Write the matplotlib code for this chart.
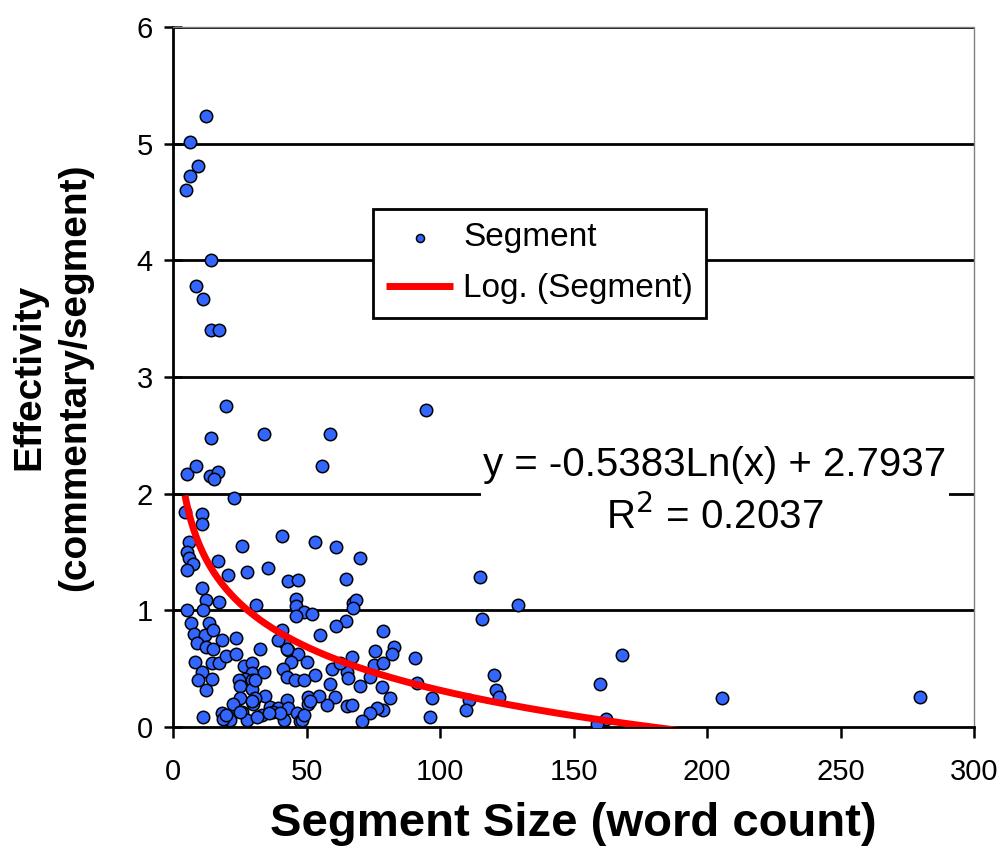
import numpy as np
import matplotlib
matplotlib.use("Agg")
import matplotlib.pyplot as plt

# Segment size (word count) and effectivity (commentary/segment)
seg_x = [
    12.3, 6.3, 9.4, 6.4, 4.8, 14.4, 8.5, 11.4, 14.4, 17.4,
    19.8, 14.4, 34.0, 58.9, 55.8, 94.9, 5.4, 8.5, 13.9, 17.0,
    15.3, 22.8, 4.5, 10.8, 10.8, 40.7, 25.8, 53.2, 61.0, 69.9,
    6.1, 5.1, 6.0, 7.6, 5.1, 17.0, 20.5, 27.9, 35.4, 42.9,
    46.8, 64.8, 10.8, 12.4, 17.2, 5.4, 11.4, 45.9, 45.9, 48.9,
    52.2, 45.9, 31.0, 67.4, 68.6, 67.6, 64.8, 61.0, 54.9, 78.6,
    114.9, 129.3, 115.8, 168.2, 120.4, 160.1, 121.1, 122.0, 97.0, 96.4,
    110.7, 109.9, 162.0, 158.9, 90.7, 91.4, 205.7, 279.9,
    6.6, 13.6, 7.9, 12.0, 14.9, 8.9, 12.4, 14.9, 18.3, 23.5,
    8.2, 14.5, 17.2, 19.9, 23.6, 10.8, 9.5, 14.5, 12.4, 26.6,
    29.5, 29.5, 27.0, 24.9, 29.5, 25.1, 29.5, 11.1, 18.3, 21.1,
    21.4, 23.2, 25.1, 25.8, 27.6, 30.1, 40.7, 32.6, 43.0, 46.8,
    44.2, 50.1, 41.1, 59.5, 53.2, 33.9, 30.7, 42.6, 45.7, 49.2,
    58.9, 60.7, 57.6, 50.5, 54.5, 50.7, 34.5, 36.4, 33.3, 42.6,
    39.5, 43.2, 41.4, 46.4, 47.6, 82.6, 82.0, 75.7, 67.0, 75.1,
    78.6, 65.1, 65.7, 73.9, 78.3, 81.1, 65.1, 67.0, 78.6, 76.4,
    73.9, 70.8, 51.4, 18.9, 30.7, 31.4, 29.5, 37.6, 40.1, 48.3,
    48.9, 22.6, 25.1, 41.4, 42.6, 39.5, 36.0, 20.0, 62.5, 70.0,
]
seg_y = [
    5.24, 5.01, 4.81, 4.72, 4.60, 4.00, 3.78, 3.67, 3.40, 3.40,
    2.75, 2.48, 2.51, 2.51, 2.24, 2.72, 2.17, 2.24, 2.15, 2.19,
    2.13, 1.96, 1.84, 1.83, 1.74, 1.64, 1.55, 1.59, 1.54, 1.45,
    1.59, 1.50, 1.45, 1.40, 1.35, 1.42, 1.30, 1.33, 1.36, 1.25,
    1.26, 1.27, 1.19, 1.09, 1.07, 1.00, 1.00, 1.10, 1.04, 0.99,
    0.97, 0.95, 1.05, 1.06, 1.09, 1.02, 0.91, 0.87, 0.79, 0.82,
    1.29, 1.05, 0.93, 0.62, 0.45, 0.37, 0.32, 0.26, 0.25, 0.09,
    0.23, 0.15, 0.07, 0.03, 0.59, 0.38, 0.25, 0.26,
    0.89, 0.89, 0.80, 0.79, 0.83, 0.72, 0.69, 0.67, 0.75, 0.76,
    0.56, 0.55, 0.55, 0.61, 0.63, 0.47, 0.40, 0.41, 0.32, 0.52,
    0.55, 0.46, 0.41, 0.40, 0.40, 0.35, 0.33, 0.09, 0.12, 0.09,
    0.06, 0.17, 0.25, 0.13, 0.06, 0.20, 0.83, 0.67, 0.66, 0.63,
    0.56, 0.56, 0.50, 0.50, 0.45, 0.47, 0.40, 0.43, 0.40, 0.40,
    0.37, 0.26, 0.19, 0.26, 0.27, 0.20, 0.27, 0.17, 0.10, 0.23,
    0.16, 0.16, 0.06, 0.12, 0.05, 0.69, 0.63, 0.65, 0.60, 0.53,
    0.55, 0.47, 0.42, 0.43, 0.34, 0.25, 0.18, 0.19, 0.15, 0.16,
    0.12, 0.05, 0.22, 0.07, 0.25, 0.09, 0.22, 0.13, 0.12, 0.06,
    0.10, 0.20, 0.13, 0.73, 0.67, 0.75, 0.12, 0.10, 0.55, 0.35,
]

# Logarithmic trendline coefficients (from the chart's equation)
fit_a = -0.5383
fit_b = 2.7937
r_squared = 0.2037

x_ticks = [0, 50, 100, 150, 200, 250, 300]
y_ticks = [0, 1, 2, 3, 4, 5, 6]

plt.rcParams['font.family'] = ['Liberation Sans', 'DejaVu Sans']

fig = plt.figure(figsize=(10.05, 8.59), dpi=100)
ax = fig.add_axes([173 / 1005, 132 / 859, 801 / 1005, 700 / 859])

ax.set_xlim(0, 300)
ax.set_ylim(0, 6)

for yv in y_ticks[1:]:
    ax.axhline(yv, color='black', lw=2.0, zorder=1)

ax.scatter(seg_x, seg_y, s=80, marker='o', facecolor='#3366ff',
           edgecolor='black', linewidths=1.1, zorder=3, label='Segment')

xs = np.linspace(min(seg_x), max(seg_x), 500)
ax.plot(xs, fit_a * np.log(xs) + fit_b, color='#ff0000', lw=5,
        zorder=4, label='Log. (Segment)', solid_capstyle='butt')

ax.set_xticks(x_ticks)
ax.set_yticks(y_ticks)
ax.tick_params(axis='y', direction='inout', length=13, width=1.8,
               labelsize=21, pad=8)
ax.tick_params(axis='x', direction='out', length=8, width=1.8,
               labelsize=21, pad=14)

for s in ['left', 'bottom']:
    ax.spines[s].set_linewidth(2.0)
    ax.spines[s].set_color('black')
for s in ['top', 'right']:
    ax.spines[s].set_linewidth(1.0)
    ax.spines[s].set_color('#808080')
    ax.spines[s].set_linestyle((0, (1, 1)))

ax.set_xlabel('Segment Size (word count)', fontsize=34, fontweight='bold',
              labelpad=12)
ax.set_ylabel('Effectivity\n(commentary/segment)', fontsize=28,
              fontweight='bold', labelpad=31, linespacing=1.35)

leg = ax.legend(loc='upper left', bbox_to_anchor=(0.2497, 0.74),
                borderaxespad=0, fontsize=24, frameon=True, fancybox=False,
                edgecolor='black', framealpha=1.0, borderpad=0.4,
                handlelength=2.0, handletextpad=0.3, labelspacing=0.6,
                markerscale=0.65)
leg.get_frame().set_linewidth(2.0)
leg.set_zorder(6)

ax.text(203, 2.02,
        'y = %.4fLn(x) + %.4f\nR$^2$ = %.4f' % (fit_a, fit_b, r_squared),
        fontsize=29, ha='center', va='center', multialignment='center',
        linespacing=1.35, zorder=5,
        bbox=dict(facecolor='white', edgecolor='none', pad=2))

fig.savefig('out.png', dpi=100, facecolor='white')
